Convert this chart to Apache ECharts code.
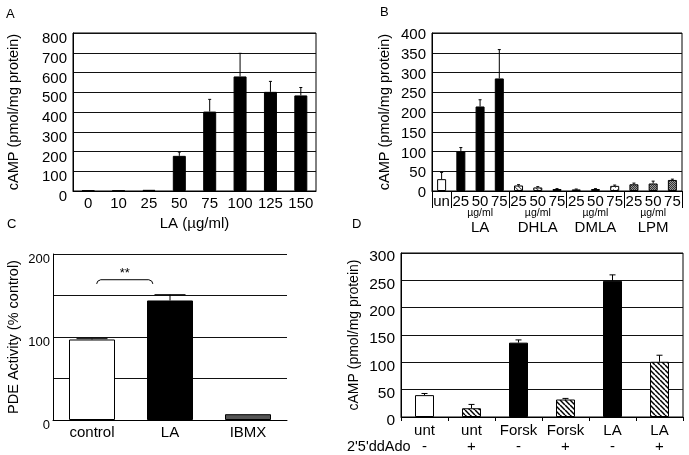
<!DOCTYPE html>
<html><head><meta charset="utf-8">
<script src="https://cdn.jsdelivr.net/npm/echarts@6/dist/echarts.min.js"></script>
<style>html,body{margin:0;padding:0;background:#fff}#c{width:689px;height:455px}</style>
</head><body><div id="c"></div>
<script>
// ---- Panel A ----
const catsA = ['0','10','25','50','75','100','125','150'];
const valsA = [3, 2, 6, 178, 402, 580, 502, 484];
const errA  = [0, 0, 0, 19, 62, 117, 53, 40];
// ---- Panel B ----
const catsB = ['un','LA25','LA50','LA75','DHLA25','DHLA50','DHLA75','DMLA25','DMLA50','DMLA75','LPM25','LPM50','LPM75'];
const tickLabelsB = ['un','25','50','75','25','50','75','25','50','75','25','50','75'];
const groupsB = ['LA','DHLA','DMLA','LPM'];
const unitB = 'µg/ml';
const valsB = [30, 100, 214, 285, 14, 9, 5, 4, 5, 13, 17, 19, 28];
const errB  = [17, 10, 17, 73, 2, 2, 1, 1, 1, 2, 3, 6, 2];
// ---- Panel C ----
const catsC = ['control','LA','IBMX'];
const valsC = [97, 144, 7];
const errC  = [1, 7, 0];
const sigTextC = '**';
const sigBracketC = [0.06, 0.78, 164, 169, 177]; // from-cat offset, to-cat offset, end value, top value, label value
// ---- Panel D ----
const catsD = ['unt -','unt +','Forsk -','Forsk +','LA -','LA +'];
const tickLabelsD = ['unt','unt','Forsk','Forsk','LA','LA'];
const signsD = ['-','+','-','+','-','+'];
const valsD = [40, 16, 136, 32, 249, 101];
const errD  = [3, 7, 5, 2, 11, 12];

const FONT = 'Liberation Sans, Arial, sans-serif';

function pat(size, draw){
  const c=document.createElement('canvas'); c.width=c.height=size;
  const g=c.getContext('2d'); g.fillStyle='#fff'; g.fillRect(0,0,size,size);
  draw(g,size); return {image:c, repeat:'repeat'};
}
function diag(color, lw){ return (g,s)=>{ g.strokeStyle=color; g.lineWidth=lw;
  for(const k of [-s,0,s]){ g.beginPath(); g.moveTo(k,0); g.lineTo(k+s,s); g.stroke(); } }; }
const fills = {
  white: '#fff',
  black: '#000',
  gray: '#555',
  hatch: pat(5, diag('#000',1.5)),
  dhla: pat(4, diag('#555',1.1)),
  dmla: pat(4, (g)=>{ g.fillStyle='#888'; g.fillRect(1,1,1,1); g.fillRect(3,3,1,1); }),
  lpm: pat(2, (g)=>{ g.fillStyle='#9a9a9a'; g.fillRect(0,0,2,2); g.fillStyle='#333'; g.fillRect(0,0,1,1); g.fillRect(1,1,1,1); })
};
const styleB = ['white','black','black','black','dhla','dhla','dhla','dmla','dmla','dmla','lpm','lpm','lpm'];
const styleC = ['white','black','gray'];
const styleD = ['white','hatch','black','hatch','black','hatch'];

function barData(vals, styles){
  return vals.map((v,i)=>({value:v, itemStyle:{color:fills[styles[i]], borderColor:'#000', borderWidth:1}}));
}
function errData(vals, errs){ return vals.map((v,i)=>[i, v, errs[i]]); }
function errRender(capW){
  return function(params, api){
    const x=api.value(0), v=api.value(1), e=api.value(2);
    if(!e) return;
    const p0=api.coord([x,v]), p1=api.coord([x,v+e]);
    return {type:'group', children:[
      {type:'line', shape:{x1:p0[0],y1:p0[1],x2:p1[0],y2:p1[1]}, style:{stroke:'#000',lineWidth:1}},
      {type:'line', shape:{x1:p1[0]-capW/2,y1:p1[1],x2:p1[0]+capW/2,y2:p1[1]}, style:{stroke:'#000',lineWidth:1}}
    ]};
  };
}
const lbl = (o)=>Object.assign({color:'#000', fontFamily:FONT}, o);
const blackLine = {show:true, lineStyle:{color:'#000', width:1}};
const split = {show:true, lineStyle:{color:'#111', width:1}};

const chart = echarts.init(document.getElementById('c'), null, {renderer:'canvas'});
chart.setOption({
  backgroundColor:'#fff',
  animation:false,
  textStyle:{fontFamily:FONT, color:'#000'},
  grid:[
    {left:73, top:33, width:243, height:158, show:true, borderColor:'#000', borderWidth:1, outerBoundsMode:'none'},
    {left:432, top:33, width:250, height:158, show:true, borderColor:'#000', borderWidth:1, outerBoundsMode:'none'},
    {left:53, top:254, width:234, height:166, outerBoundsMode:'none'},
    {left:401, top:253, width:282, height:164, show:true, borderColor:'#000', borderWidth:1, outerBoundsMode:'none'}
  ],
  xAxis:[
    {gridIndex:0, type:'category', data:catsA, position:'bottom', axisLine:blackLine, axisTick:{show:false},
     axisLabel:lbl({fontSize:15, margin:5, interval:0}),
     name:'LA (µg/ml)', nameLocation:'middle', nameGap:25, nameTextStyle:lbl({fontSize:15})},
    {gridIndex:1, type:'category', data:catsB, position:'bottom', axisLine:blackLine,
     axisTick:{show:true, length:17, interval:(i)=>[0,1,4,7,10].includes(i), lineStyle:{color:'#000',width:1}},
     axisLabel:lbl({fontSize:15, margin:3, interval:0, formatter:(v,i)=>tickLabelsB[i]})},
    {gridIndex:1, type:'category', data:catsB, position:'bottom', axisLine:{show:false}, axisTick:{show:false},
     axisLabel:lbl({interval:0, margin:16.5, formatter:(v,i)=>{const gi=[2,5,8,11].indexOf(i); return gi<0?'':'{u|'+unitB+'}\n{g|'+groupsB[gi]+'}';},
       rich:{u:{fontSize:10.5, lineHeight:12, color:'#000', fontFamily:FONT}, g:{fontSize:15, lineHeight:16, color:'#000', fontFamily:FONT}}})},
    {gridIndex:2, type:'category', data:catsC, position:'bottom', axisLine:blackLine, axisTick:{show:false},
     axisLabel:lbl({fontSize:15, margin:5, interval:0})},
    {gridIndex:3, type:'category', data:catsD, position:'bottom', axisLine:blackLine,
     axisTick:{show:true, length:4, interval:0, lineStyle:{color:'#000',width:1}},
     axisLabel:lbl({fontSize:15, margin:6, interval:0, formatter:(v,i)=>tickLabelsD[i]})},
    {gridIndex:3, type:'category', data:catsD, position:'bottom', axisLine:{show:false}, axisTick:{show:false},
     axisLabel:lbl({fontSize:15, margin:22, interval:0, formatter:(v,i)=>signsD[i]})}
  ],
  yAxis:[
    {gridIndex:0, type:'value', min:0, max:800, interval:100, axisLine:blackLine, axisTick:{show:false}, splitLine:split,
     axisLabel:lbl({fontSize:15, margin:6, verticalAlign:'top', lineHeight:12}),
     name:'cAMP (pmol/mg protein)', nameLocation:'middle', nameGap:52, nameTextStyle:lbl({fontSize:14.5})},
    {gridIndex:1, type:'value', min:0, max:400, interval:50, axisLine:blackLine, axisTick:{show:false}, splitLine:split,
     axisLabel:lbl({fontSize:15, margin:6, verticalAlign:'top', lineHeight:4}),
     name:'cAMP (pmol/mg protein)', nameLocation:'middle', nameGap:40, nameTextStyle:lbl({fontSize:14.5})},
    {gridIndex:2, type:'value', min:0, max:200, interval:50, axisLine:blackLine, axisTick:{show:false}, splitLine:split,
     axisLabel:lbl({fontSize:13, margin:3, verticalAlign:'top', lineHeight:10, formatter:(v)=> v%100===0 ? String(v) : ''}),
     name:'PDE Activity (% control)', nameLocation:'middle', nameGap:32, nameTextStyle:lbl({fontSize:14.5})},
    {gridIndex:3, type:'value', min:0, max:300, interval:50, axisLine:blackLine, axisTick:{show:false}, splitLine:split,
     axisLabel:lbl({fontSize:15.5, margin:6, verticalAlign:'top', lineHeight:8}),
     name:'cAMP (pmol/mg protein)', nameLocation:'middle', nameGap:40, nameTextStyle:lbl({fontSize:14})}
  ],
  series:[
    {type:'bar', xAxisIndex:0, yAxisIndex:0, barWidth:13, data:valsA.map(v=>({value:v, itemStyle:{color:'#000', borderColor:'#000', borderWidth:1}}))},
    {type:'custom', xAxisIndex:0, yAxisIndex:0, z:3, renderItem:errRender(3), data:errData(valsA, errA)},
    {type:'bar', xAxisIndex:1, yAxisIndex:1, barWidth:9, data:barData(valsB, styleB)},
    {type:'custom', xAxisIndex:1, yAxisIndex:1, z:3, renderItem:errRender(3), data:errData(valsB, errB)},
    {type:'bar', xAxisIndex:3, yAxisIndex:2, barWidth:46, data:barData(valsC, styleC)},
    {type:'custom', xAxisIndex:3, yAxisIndex:2, z:3, renderItem:errRender(31), data:errData(valsC, errC)},
    {type:'custom', xAxisIndex:3, yAxisIndex:2, z:3, data:[sigBracketC],
     renderItem:function(params, api){
       const band = api.size([1,0])[0];
       const base = api.coord([0, api.value(2)]);
       const top = api.coord([0, api.value(3)]);
       const lab = api.coord([0, api.value(4)]);
       const x0 = base[0] + api.value(0)*band, x1 = base[0] + api.value(1)*band;
       const yb = base[1], yt = top[1];
       return {type:'group', children:[
         {type:'polyline', shape:{points:[[x0,yb],[x0+1,yt+1.5],[x0+4,yt],[x1-4,yt],[x1-1,yt+1.5],[x1,yb]]}, style:{stroke:'#000', lineWidth:1, fill:null}},
         {type:'text', style:{x:(x0+x1)/2, y:lab[1], text:sigTextC, textAlign:'center', textVerticalAlign:'middle', fontSize:13, fontFamily:FONT, fill:'#000'}}
       ]};
     }},
    {type:'bar', xAxisIndex:4, yAxisIndex:3, barWidth:19, data:barData(valsD, styleD)},
    {type:'custom', xAxisIndex:4, yAxisIndex:3, z:3, renderItem:errRender(6), data:errData(valsD, errD)}
  ],
  graphic:[
    {type:'text', left:6, top:8, style:{text:'A', fontSize:13, fontFamily:FONT, fill:'#000'}},
    {type:'text', left:380, top:6, style:{text:'B', fontSize:13, fontFamily:FONT, fill:'#000'}},
    {type:'text', left:7, top:218, style:{text:'C', fontSize:13, fontFamily:FONT, fill:'#000'}},
    {type:'text', left:352, top:218, style:{text:'D', fontSize:13, fontFamily:FONT, fill:'#000'}},
    {type:'text', left:347, top:439, style:{text:"2'5'ddAdo", fontSize:14.5, fontFamily:FONT, fill:'#000'}}
  ]
});
</script>
</body></html>
